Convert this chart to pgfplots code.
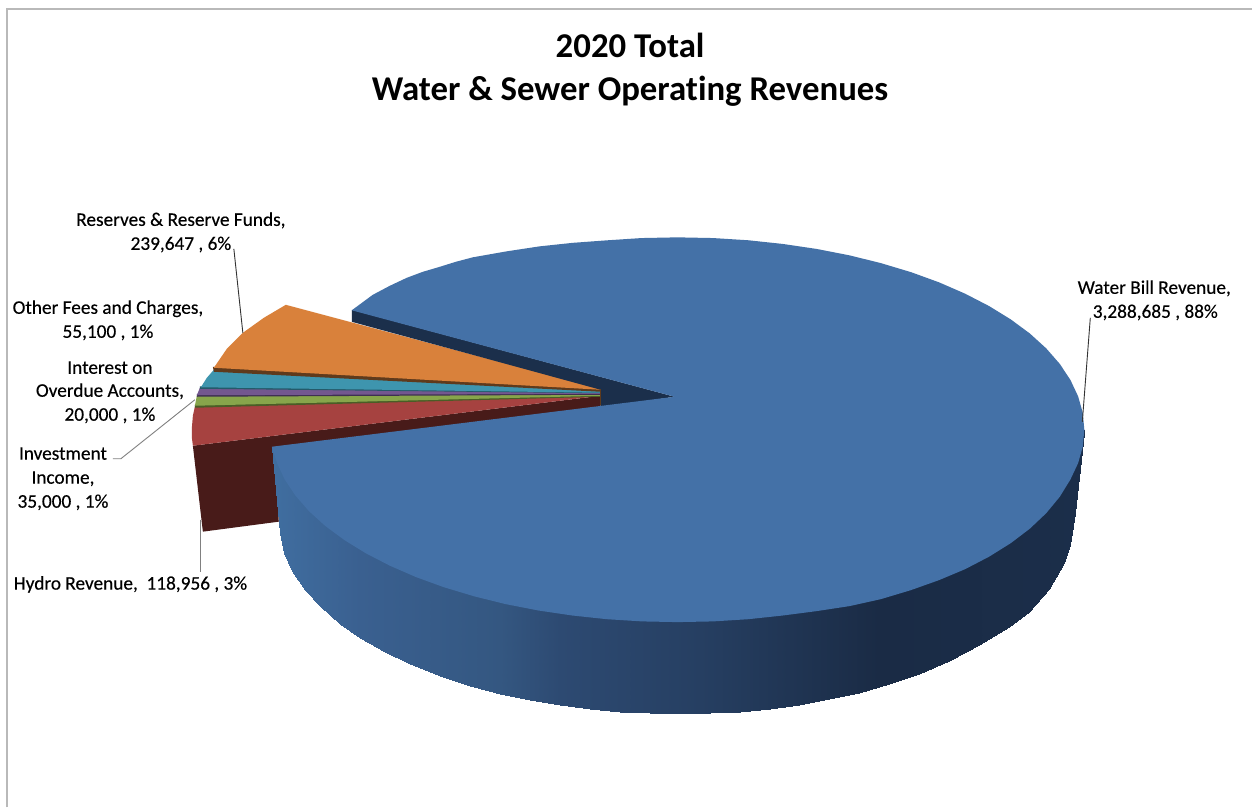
\documentclass[border=0pt]{standalone}
\usepackage{fontspec}
\setmainfont{Carlito}[Ligatures=NoCommon]
\newfontfamily\labelfont{Carlito}[Ligatures=NoCommon,FakeBold=0.3]
\usepackage{pgfplots}
\pgfplotsset{compat=1.18}
\usepgfplotslibrary{patchplots}
\definecolor{mainTop}{HTML}{4471A7}
\definecolor{mainWall}{HTML}{1B2F4B}
\definecolor{orangeTop}{HTML}{D9813B}
\definecolor{orangeWall}{HTML}{5F3A1C}
\definecolor{tealTop}{HTML}{3E95AE}
\definecolor{tealWall}{HTML}{245A6A}
\definecolor{purpleTop}{HTML}{73578F}
\definecolor{purpleWall}{HTML}{3F2F52}
\definecolor{greenTop}{HTML}{87A54B}
\definecolor{greenWall}{HTML}{4A5D26}
\definecolor{redTop}{HTML}{A64240}
\definecolor{redWall}{HTML}{481B19}
\definecolor{frameLine}{HTML}{B9B9B9}
\newcommand{\lbl}{\labelfont\fontsize{19.3}{21}\selectfont}
\newcommand{\ttl}{\fontsize{34.8}{38}\selectfont\bfseries}
\begin{document}
\begin{tikzpicture}
\begin{axis}[
  scale only axis, width=1253pt, height=808pt,
  xmin=0, xmax=1253, ymin=0, ymax=808, y dir=reverse,
  hide axis, clip=false,
  colormap={pieside}{rgb255(0cm)=(64,110,160) rgb255(0.88cm)=(58,96,144) rgb255(2.28cm)=(52,87,129) rgb255(2.88cm)=(45,74,114) rgb255(4.28cm)=(38,63,98) rgb255(6.08cm)=(26,43,69) rgb255(8.13cm)=(27,46,74)},
  point meta min=272, point meta max=1085,
]
% page background
\fill[white] (axis cs:0,0) rectangle (axis cs:1253,808);
% chart frame
\addplot[frameLine, line width=1.6pt] coordinates {(7,808) (7,9) (1253,9)};

% Hydro Revenue slice
\addplot[fill=redWall, draw=none] coordinates {(193,446) (601,396) (601,408) (274,450) (279,522) (203,532)};
\addplot[fill=redTop, draw=none] coordinates {(195,407) (193,416) (192,428) (192,438) (193,446) (601,396)};
% Investment Income slice
\addplot[fill=greenWall, draw=none] coordinates {(195,405) (601,395.5) (601,397) (195,408)};
\addplot[fill=greenTop, draw=none] coordinates {(197,396) (195,406) (601,396) (601,395)};
% Interest on Overdue Accounts slice
\addplot[fill=purpleWall, draw=none] coordinates {(197,394) (601,393.5) (601,395) (197,397)};
\addplot[fill=purpleTop, draw=none] coordinates {(200,388) (197,395.5) (601,394) (601,393)};
% Other Fees and Charges slice
\addplot[fill=tealWall, draw=none] coordinates {(200,386.5) (601,392) (601,393.5) (200,389)};
\addplot[fill=tealTop, draw=none] coordinates {(214,370) (207,378) (201,387.5) (601,393) (601,391)};
% Reserves and Reserve Funds slice
\addplot[fill=orangeWall, draw=none] coordinates {(213,367) (601,389) (601,392) (214,372)};
\addplot[fill=orangeTop, draw=none] coordinates {(286,305) (264,318) (243,333) (227,349) (214,368) (601,390) (601,389)};

% inner wall of the large slice
\addplot[fill=mainWall, draw=none] coordinates {(352,310) (675,397) (601,408) (601,390) (352,322)};
\addplot[orangeWall, line width=1pt] coordinates {(600.5,389) (600.5,405.5)};

% outer wall of the large slice, shaded along x
\addplot[patch, patch type=rectangle, shader=interp, point meta=x] table {
x y
272 447
280 450
280 533
272 447
280 450
284 450
284 553
280 533
284 450
292 450
292 571
284 553
292 450
305 450
305 590
292 571
305 450
320 450
320 606
305 590
320 450
340 450
340 624
320 606
340 450
360 450
360 638
340 624
360 450
385 450
385 652
360 638
385 450
410 450
410 664
385 652
410 450
440 450
440 676
410 664
440 450
470 450
470 686
440 676
470 450
500 450
500 694
470 686
500 450
530 450
530 700
500 694
530 450
560 450
560 705
530 700
560 450
590 450
590 709
560 705
590 450
620 450
620 712
590 709
620 450
650 450
650 713.5
620 712
650 450
680 450
680 714
650 713.5
680 450
710 450
710 713.4
680 714
710 450
740 450
740 712
710 713.4
740 450
770 450
770 709
740 712
770 450
800 450
800 705
770 709
800 450
830 450
830 699
800 705
830 450
860 450
860 693
830 699
860 450
890 450
890 684.5
860 693
890 450
920 450
920 674.5
890 684.5
920 450
950 450
950 661
920 674.5
950 450
980 450
980 645
950 661
980 450
1010 450
1010 627
980 645
1010 450
1030 450
1030 612
1010 627
1030 450
1050 450
1050 589
1030 612
1050 450
1065 450
1065 563
1050 589
1065 450
1071 450
1071 545
1065 563
1071 450
1076 450
1076 513
1071 545
1076 450
1085 430
1085 433
1076 513
};

% top face of the large slice
\addplot[fill=mainTop, draw=none] coordinates {
(675,397) (352,310.5) (373,295) (390,286) (407,278) (423,272) (440,267) (456,262) (473,257.5)
(507,251.5) (540,246.5) (573,243) (607,240.5) (642,238.2)
(678,237.5) (713.5,238.2) (748.7,240.4) (783.3,244.1) (817.2,249.1) (850,255.5)
(881.5,263.3) (911.5,272.3) (939.6,282.5) (965.8,293.9) (989.8,306.3) (1011.4,319.6)
(1030.5,333.7) (1046.9,348.6) (1060.5,364.2) (1071.1,380.2) (1078.8,396.6) (1083.5,413.2)
(1085,430) (1083.5,446.8) (1078.8,463.4) (1071.1,479.8) (1060.5,497) (1046.9,513.5)
(1030.5,529) (1011.4,543.5) (989.8,557) (965.8,569.5) (939.6,580.5) (911.5,590.5)
(881.5,599.5) (850,606.5) (817.2,611.5) (783.3,615.9) (748.7,619.6) (713.5,621.8)
(678,622.5) (642.5,621.8) (607.3,619.6) (572.7,615.9) (538.8,610.9) (506,604.5)
(474.5,596.7) (444.5,587.7) (416.4,577.5) (390.2,566.1) (366.2,553.7) (344.6,540.4)
(325.5,526.3) (309.1,511.4) (295.5,495.8) (284.9,479.8) (277.2,463.4) (272,447)
};

% leader lines
\addplot[black!80, line width=0.9pt] coordinates {(234,249) (243,333)};
\addplot[black!80, line width=0.9pt] coordinates {(1091,318) (1083,422)};
\addplot[black!50, line width=0.9pt] coordinates {(113,459) (121,459) (195,400)};
\addplot[black!50, line width=0.9pt] coordinates {(201,520) (201,572)};

% title
\node[anchor=base, inner sep=0pt] at (axis cs:630.5,57.5) {\ttl 2020 Total};
\node[anchor=base, inner sep=0pt] at (axis cs:630.5,100.5) {\ttl Water \& Sewer Operating Revenues};

% data labels
\node[anchor=base, inner sep=0pt] at (axis cs:181,226) {\lbl Reserves \& Reserve Funds,};
\node[anchor=base, inner sep=0pt] at (axis cs:181,250) {\lbl 239,647 , 6\%};
\node[anchor=base, inner sep=0pt] at (axis cs:108,314) {\lbl Other Fees and Charges,};
\node[anchor=base, inner sep=0pt] at (axis cs:108,338) {\lbl 55,100 , 1\%};
\node[anchor=base, inner sep=0pt] at (axis cs:110,374) {\lbl Interest on};
\node[anchor=base, inner sep=0pt] at (axis cs:110,397) {\lbl Overdue Accounts,};
\node[anchor=base, inner sep=0pt] at (axis cs:110,421) {\lbl 20,000 , 1\%};
\node[anchor=base, inner sep=0pt] at (axis cs:63,460) {\lbl Investment};
\node[anchor=base, inner sep=0pt] at (axis cs:63,484) {\lbl Income,};
\node[anchor=base, inner sep=0pt] at (axis cs:63,508) {\lbl 35,000 , 1\%};
\node[anchor=base, inner sep=0pt] at (axis cs:130.5,590) {\lbl Hydro Revenue,\ \ 118,956 , 3\%};
\node[anchor=base, inner sep=0pt] at (axis cs:1155,294) {\lbl Water Bill Revenue,};
\node[anchor=base, inner sep=0pt] at (axis cs:1156,318) {\lbl 3,288,685 , 88\%};
\end{axis}
\end{tikzpicture}
\end{document}
